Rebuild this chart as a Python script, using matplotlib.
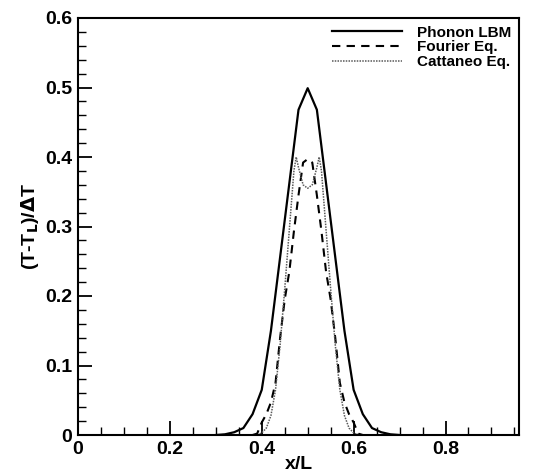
"""
Temperature profiles: phonon LBM vs Fourier and Cattaneo equations.
"""

import matplotlib.pyplot as plt
from matplotlib.ticker import MultipleLocator

plt.rcParams["font.family"] = ["Liberation Sans", "DejaVu Sans"]
plt.rcParams["font.weight"] = "bold"

# Phonon LBM (solid)
lbm_x = [0.30, 0.32, 0.34, 0.36, 0.38, 0.40, 0.42, 0.44, 0.46, 0.48, 0.50,
         0.52, 0.54, 0.56, 0.58, 0.60, 0.62, 0.64, 0.66, 0.68, 0.70]
lbm_y = [0.0, 0.001, 0.004, 0.010, 0.030, 0.065, 0.150, 0.256, 0.362, 0.468, 0.499,
         0.468, 0.362, 0.256, 0.150, 0.065, 0.030, 0.010, 0.004, 0.001, 0.0]

# Fourier equation (dashed)
fourier_x = [0.38, 0.39, 0.40, 0.41, 0.42, 0.43, 0.44, 0.45, 0.46, 0.47, 0.48, 0.49, 0.50,
             0.51, 0.52, 0.53, 0.54, 0.55, 0.56, 0.57, 0.58, 0.59, 0.60, 0.61, 0.62]
fourier_y = [0.0, 0.002, 0.018, 0.030, 0.047, 0.075, 0.140, 0.195, 0.235, 0.293, 0.345, 0.392, 0.397,
             0.392, 0.345, 0.293, 0.235, 0.195, 0.140, 0.075, 0.047, 0.030, 0.018, 0.002, 0.0]

# Cattaneo equation (dotted)
catt_x = [0.39, 0.40, 0.41, 0.42, 0.43, 0.44, 0.45, 0.46, 0.47, 0.475, 0.48, 0.49, 0.50,
          0.51, 0.52, 0.525, 0.53, 0.54, 0.55, 0.56, 0.57, 0.58, 0.59, 0.60, 0.61]
catt_y = [0.0, 0.003, 0.010, 0.028, 0.065, 0.130, 0.210, 0.295, 0.380, 0.400, 0.385, 0.360, 0.355,
          0.360, 0.385, 0.400, 0.380, 0.295, 0.210, 0.130, 0.065, 0.028, 0.010, 0.003, 0.0]

x_ticks = [0, 0.2, 0.4, 0.6, 0.8]
x_tick_labels = ["0", "0.2", "0.4", "0.6", "0.8"]
y_ticks = [0, 0.1, 0.2, 0.3, 0.4, 0.5, 0.6]
y_tick_labels = ["0", "0.1", "0.2", "0.3", "0.4", "0.5", "0.6"]

fig = plt.figure(figsize=(5.37, 4.72), dpi=100)
ax = fig.add_axes([78 / 537, 1 - 435 / 472, 441 / 537, 417 / 472])

ax.plot(lbm_x, lbm_y, color="black", linewidth=1.6, label="Phonon LBM")
ax.plot(fourier_x, fourier_y, color="black", linewidth=1.5, dashes=(4, 3),
        label="Fourier Eq.")
ax.plot(catt_x, catt_y, color="0.35", linewidth=1.1, linestyle=(0, (1, 0.8)),
        label="Cattaneo Eq.")

ax.set_xlim(0, 0.96)
ax.set_ylim(0, 0.6)
ax.set_xticks(x_ticks)
ax.set_xticklabels(x_tick_labels)
ax.set_yticks(y_ticks)
ax.set_yticklabels(y_tick_labels)
ax.xaxis.set_minor_locator(MultipleLocator(0.05))
ax.yaxis.set_minor_locator(MultipleLocator(0.02))
ax.tick_params(which="major", direction="in", length=10, width=1.3,
               labelsize=14, top=False, right=False, pad=4)
ax.tick_params(which="minor", direction="in", length=6, width=1.0,
               top=False, right=False)
for spine in ax.spines.values():
    spine.set_linewidth(1.5)

ax.set_xlabel("x/L", fontsize=14, fontweight="bold", labelpad=-1)
ax.set_ylabel(r"(T-T$_\mathbf{L}$)/$\mathbf{\Delta}$T", fontsize=14,
              fontweight="bold", labelpad=3)

ax.legend(loc="upper right", bbox_to_anchor=(1.0, 1.0), frameon=False,
          handlelength=4.6, handletextpad=1.0,
          labelspacing=0.05, borderaxespad=0.1,
          prop={"weight": "bold", "size": 11})

fig.savefig("out.png", dpi=100)
